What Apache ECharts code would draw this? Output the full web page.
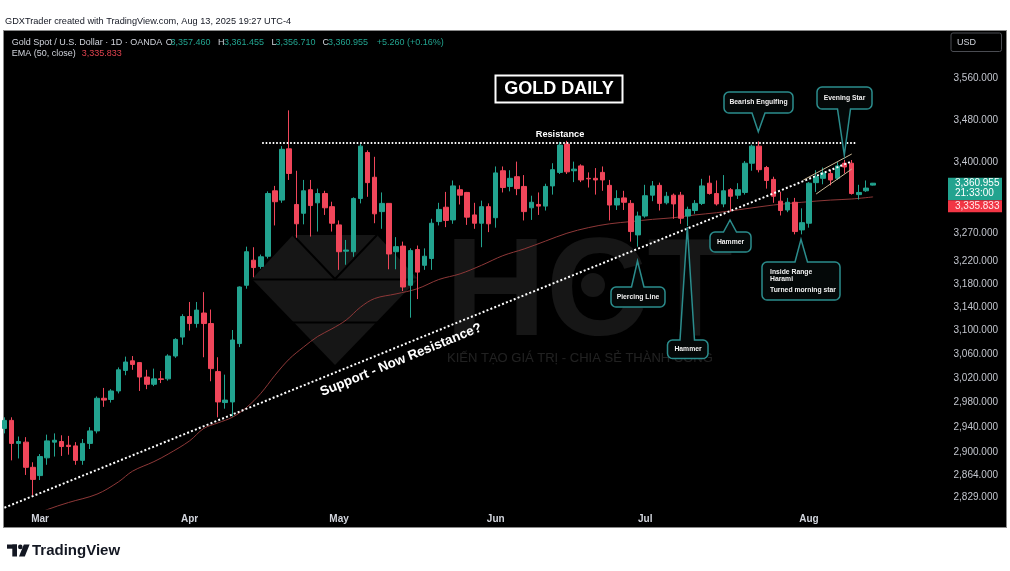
<!DOCTYPE html>
<html><head><meta charset="utf-8">
<script src="https://cdn.jsdelivr.net/npm/echarts@6/dist/echarts.min.js"></script>
<style>
html,body{margin:0;padding:0;background:#fff;width:1010px;height:571px;overflow:hidden}
#panel{position:absolute;left:3px;top:30px;width:1002px;height:496px;background:#000;border:1px solid #8a8a8a;}
#chart{position:absolute;left:0;top:0;width:1010px;height:571px}
</style></head><body>
<div id="panel"></div><div id="chart"></div>
<script>
// ---------- data ----------
const dates = [
 '2025-02-24','2025-02-25','2025-02-26','2025-02-27','2025-02-28',
 '2025-03-03','2025-03-04','2025-03-05','2025-03-06','2025-03-07','2025-03-10','2025-03-11','2025-03-12','2025-03-13','2025-03-14',
 '2025-03-17','2025-03-18','2025-03-19','2025-03-20','2025-03-21','2025-03-24','2025-03-25','2025-03-26','2025-03-27','2025-03-28','2025-03-31',
 '2025-04-01','2025-04-02','2025-04-03','2025-04-04','2025-04-07','2025-04-08','2025-04-09','2025-04-10','2025-04-11','2025-04-14',
 '2025-04-15','2025-04-16','2025-04-17','2025-04-21','2025-04-22','2025-04-23','2025-04-24','2025-04-25','2025-04-28','2025-04-29','2025-04-30',
 '2025-05-01','2025-05-02','2025-05-05','2025-05-06','2025-05-07','2025-05-08','2025-05-09','2025-05-12','2025-05-13','2025-05-14',
 '2025-05-15','2025-05-16','2025-05-19','2025-05-20','2025-05-21','2025-05-22','2025-05-23','2025-05-26','2025-05-27','2025-05-28','2025-05-29','2025-05-30',
 '2025-06-02','2025-06-03','2025-06-04','2025-06-05','2025-06-06','2025-06-09','2025-06-10','2025-06-11','2025-06-12','2025-06-13',
 '2025-06-16','2025-06-17','2025-06-18','2025-06-19','2025-06-20','2025-06-23','2025-06-24','2025-06-25','2025-06-26','2025-06-27','2025-06-30',
 '2025-07-01','2025-07-02','2025-07-03','2025-07-04','2025-07-07','2025-07-08','2025-07-09','2025-07-10','2025-07-11','2025-07-14',
 '2025-07-15','2025-07-16','2025-07-17','2025-07-18','2025-07-21','2025-07-22','2025-07-23','2025-07-24','2025-07-25','2025-07-28','2025-07-29','2025-07-30','2025-07-31',
 '2025-08-01','2025-08-04','2025-08-05','2025-08-06','2025-08-07','2025-08-08','2025-08-11','2025-08-12','2025-08-13','2025-08-14'
];
const openV = [2938,2951,2914,2916,2876,2863,2891,2916,2917,2911,
 2910,2887,2914,2934,2987,2985,2999,3033,3049,3046,
 3022,3010,3019,3019,3057,3089,3124,3112,3130,3112,
 3031,2980,2981,3078,3178,3222,3211,3229,3347,3330,
 3425,3322,3306,3349,3325,3342,3318,3285,3238,3237,
 3333,3418,3372,3309,3324,3237,3247,3178,3241,3213,
 3225,3291,3317,3294,3349,3344,3303,3288,3318,3298,
 3384,3355,3373,3355,3316,3322,3319,3356,3381,3434,
 3384,3393,3370,3370,3381,3357,3321,3334,3324,3267,
 3301,3339,3357,3325,3339,3339,3301,3311,3324,3361,
 3342,3323,3349,3339,3344,3398,3430,3390,3368,3328,
 3312,3326,3276,3288,3362,3370,3379,3370,3398,3398,
 3340,3347,3357.46];
const highV = [2956,2956,2925,2924,2884,2897,2928,2930,2927,2926,
 2916,2921,2940,2990,3004,3002,3038,3056,3057,3047,
 3034,3036,3032,3060,3087,3128,3149,3149,3166,3136,
 3055,3026,3101,3176,3246,3245,3232,3346,3356,3430,
 3498,3384,3367,3367,3351,3347,3327,3293,3258,3335,
 3434,3422,3410,3344,3324,3263,3255,3243,3248,3243,
 3296,3325,3345,3366,3357,3345,3325,3329,3324,3392,
 3392,3385,3401,3376,3338,3344,3360,3398,3438,3440,
 3401,3396,3381,3389,3392,3367,3348,3347,3330,3309,
 3358,3365,3362,3345,3342,3345,3318,3330,3369,3375,
 3366,3376,3352,3361,3402,3433,3439,3393,3373,3345,
 3334,3334,3315,3363,3385,3390,3386,3400,3404,3404,
 3358,3366,3361.455];
const lowV = [2930,2887,2890,2864,2832,2856,2880,2893,2894,2896,
 2880,2880,2905,2930,2973,2980,2995,3025,3034,2999,
 3002,3007,3012,3016,3054,3076,3100,3105,3055,3015,
 2956,2970,2957,3072,3172,3192,3207,3225,3284,3325,
 3367,3262,3286,3264,3273,3303,3273,3205,3214,3228,
 3324,3336,3288,3278,3206,3206,3168,3122,3154,3205,
 3205,3284,3281,3287,3322,3285,3278,3245,3272,3280,
 3344,3346,3339,3293,3294,3303,3311,3340,3378,3378,
 3363,3363,3353,3340,3347,3293,3312,3312,3255,3246,
 3298,3328,3311,3322,3296,3287,3283,3305,3321,3340,
 3320,3317,3309,3332,3340,3384,3381,3351,3325,3302,
 3308,3268,3268,3280,3345,3359,3357,3367,3379,3340,
 3331,3345,3356.71];
const closeV = [2951,2914,2917,2876,2857,2893,2918,2919,2909,2909,
 2887,2914,2934,2987,2984,2999,3034,3047,3043,3022,
 3010,3019,3018,3057,3085,3124,3112,3135,3112,3036,
 2981,2984,3084,3175,3237,3209,3228,3342,3327,3424,
 3379,3287,3347,3320,3342,3316,3288,3237,3240,3333,
 3430,3362,3305,3324,3233,3246,3175,3239,3201,3229,
 3288,3313,3293,3356,3339,3299,3288,3318,3287,3380,
 3353,3370,3351,3309,3326,3319,3355,3386,3432,3382,
 3387,3367,3369,3367,3367,3321,3333,3326,3273,3301,
 3338,3356,3324,3337,3323,3297,3313,3324,3356,3342,
 3323,3347,3337,3349,3398,3430,3386,3366,3337,3311,
 3326,3273,3289,3361,3373,3380,3367,3393,3391,3342,
 3344,3352,3360.955];
// EMA(50) line: bar index -> value
const emaIdx = [4,6,9,13,16,18,21,23,26,28,30,32,34,36,38,40,42,44,46,48,50,52,55,58,61,64,67,70,73,76,79,82,85,88,91,94,97,100,104,108,112,116,119,122];
const emaVal = [2800,2810,2821,2834,2853,2870,2885,2897,2918,2938,2947,2956,2972,2995,3025,3052,3072,3090,3103,3118,3140,3155,3163,3172,3188,3198,3213,3230,3242,3256,3270,3280,3287,3291,3295,3298,3303,3307,3314,3321,3326,3330,3332,3335.833];
const monthLabels = ['Mar','Apr','May','Jun','Jul','Aug'];
const monthCodes  = ['03','04','05','06','07','08'];
const priceTicks = [3560,3480,3400,3270,3220,3180,3140,3100,3060,3020,2980,2940,2900,2864,2829];
// drawn trend lines: [barIndex, price]
const supportLine    = [[0, 2813], [119, 3401.5]];
const resistanceLine = [[36.2, 3436.4], [119.75, 3436.4]];
const wedgeUpper     = [[112.2, 3366.8], [119, 3415.2]];
const wedgeLower     = [[114, 3341.1], [119, 3387.2]];
const changeText = '+5.260 (+0.16%)';
const countdown = '21:33:00';

// ---------- build ----------
const UP = '#22a38f', DOWN = '#f0465a';
const FONT = '"Liberation Sans", Arial, sans-serif';
const fmt = v => Number(v).toLocaleString('en-US', {minimumFractionDigits: 3, maximumFractionDigits: 3});
const monthIdx = monthCodes.map(m => dates.findIndex(d => d.slice(5, 7) === m));
const labelAt = {};
monthIdx.forEach((ix, k) => labelAt[ix] = monthLabels[k]);
const candleData = dates.map((d, i) => [i, openV[i], closeV[i], lowV[i], highV[i]]);
const emaData = emaIdx.map((x, i) => [x, emaVal[i]]);
const last = dates.length - 1;

const chart = echarts.init(document.getElementById('chart'), null, {renderer: 'canvas'});
const dotW = {color: '#ffffff', width: 1.8, type: [1.6, 1.9], cap: 'butt'};
chart.setOption({
  backgroundColor: 'transparent',
  animation: false,
  grid: {left: 4, right: 65, top: 31, bottom: 62},
  xAxis: {
    type: 'value', min: -0.06, max: 132.1,
    axisLine: {show: false}, axisTick: {show: false}, splitLine: {show: false},
    axisLabel: {customValues: monthIdx, formatter: v => labelAt[Math.round(v)] || '',
      color: '#d1d4dc', fontSize: 10, fontWeight: 'bold', fontFamily: FONT, margin: 5}
  },
  yAxis: {
    type: 'log', logBase: 10, min: 2811, max: 3653.6, position: 'right',
    axisLine: {show: false}, axisTick: {show: false}, splitLine: {show: false},
    axisLabel: {customValues: priceTicks, formatter: v => fmt(v), color: '#c3c6ce',
      fontSize: 10, fontFamily: FONT, align: 'right', margin: 53}
  },
  series: [
    {type: 'candlestick', name: 'XAUUSD', data: candleData,
     dimensions: ['idx', 'open', 'close', 'lowest', 'highest'],
     encode: {x: 0, y: [1, 2, 3, 4]}, barWidth: 5, z: 3,
     itemStyle: {color: UP, color0: DOWN, borderColor: UP, borderColor0: DOWN, borderWidth: 1}},
    {type: 'line', name: 'EMA 50', data: emaData, smooth: 0.35, symbol: 'none', z: 2,
     lineStyle: {color: '#8e3838', width: 1},
     markLine: {silent: true, symbol: ['none', 'none'], label: {show: false}, animation: false,
       data: [
         [{coord: supportLine[0], lineStyle: {color: '#fff', width: 2, type: [2, 2.2], cap: 'butt'}}, {coord: supportLine[1]}],
         [{coord: resistanceLine[0], lineStyle: dotW}, {coord: resistanceLine[1]}],
         [{coord: wedgeUpper[0], lineStyle: {color: '#cdbb98', width: 1, type: 'solid'}}, {coord: wedgeUpper[1]}],
         [{coord: wedgeLower[0], lineStyle: {color: '#cdbb98', width: 1, type: 'solid'}}, {coord: wedgeLower[1]}]
       ]}}
  ]
});

// ---------- overlays ----------
const WM = 'rgba(255,255,255,0.085)';
const teal = '#2b8d8d';
function callout(b, side, bx1, bx2, tx, ty) {
  const r = 5, pts = [];
  const [x1, y1, x2, y2] = b;
  const arc = (cx, cy, a0, a1) => { for (let k = 0; k <= 4; k++) { const a = a0 + (a1 - a0) * k / 4; pts.push([cx + r * Math.cos(a), cy + r * Math.sin(a)]); } };
  arc(x1 + r, y1 + r, Math.PI, 1.5 * Math.PI);
  if (side === 'top') pts.push([bx1, y1], [tx, ty], [bx2, y1]);
  arc(x2 - r, y1 + r, 1.5 * Math.PI, 2 * Math.PI);
  arc(x2 - r, y2 - r, 0, 0.5 * Math.PI);
  if (side === 'bottom') pts.push([bx2, y2], [tx, ty], [bx1, y2]);
  arc(x1 + r, y2 - r, 0.5 * Math.PI, Math.PI);
  return {type: 'polygon', z: 20, shape: {points: pts}, style: {fill: '#040808', stroke: teal, lineWidth: 1.5}};
}
const ctext = (x, y, t, align) => ({type: 'text', z: 21, x, y,
  style: {text: t, fill: '#f0f0f0', font: 'bold 6.8px ' + FONT, align: align || 'center', verticalAlign: 'middle'}});
const txt = (x, y, t, fill, font, extra) => Object.assign({type: 'text', z: 30, x, y,
  style: {text: t, fill, font, align: 'left', verticalAlign: 'middle'}}, extra || {});

const yC = chart.convertToPixel({seriesIndex: 0}, [last, closeV[last]])[1];
const yE = chart.convertToPixel({seriesIndex: 1}, [emaIdx[emaIdx.length - 1], emaVal[emaVal.length - 1]])[1];
const gTop = yC - 5.5, gBot = gTop + 22.5;
const rTop = Math.max(gBot, yE - 6);

const g = [
  // header
  txt(5, 21, 'GDXTrader created with TradingView.com, Aug 13, 2025 19:27 UTC-4', '#131722', '9.2px ' + FONT),
  txt(11.7, 42.3, 'Gold Spot / U.S. Dollar · 1D · OANDA', '#d1d4dc', '9px ' + FONT),
  txt(165.7, 42.3, 'O', '#d1d4dc', '9px ' + FONT), txt(170.5, 42.3, fmt(openV[last]), UP, '9px ' + FONT),
  txt(218, 42.3, 'H', '#d1d4dc', '9px ' + FONT), txt(224, 42.3, fmt(highV[last]), UP, '9px ' + FONT),
  txt(271.5, 42.3, 'L', '#d1d4dc', '9px ' + FONT), txt(275.5, 42.3, fmt(lowV[last]), UP, '9px ' + FONT),
  txt(322.5, 42.3, 'C', '#d1d4dc', '9px ' + FONT), txt(328, 42.3, fmt(closeV[last]), UP, '9px ' + FONT),
  txt(376.7, 42.3, changeText, UP, '9px ' + FONT),
  txt(11.7, 53.5, 'EMA (50, close)', '#d1d4dc', '9px ' + FONT),
  txt(81.7, 53.5, fmt(emaVal[emaVal.length - 1]), '#e2434f', '9px ' + FONT),
  // USD box
  {type: 'rect', z: 30, shape: {x: 951, y: 33, width: 50.5, height: 18.5, r: 2}, style: {fill: 'transparent', stroke: '#4a4c52', lineWidth: 1}},
  txt(957, 42.3, 'USD', '#d1d4dc', '9px ' + FONT),
  // last price / EMA boxes
  {type: 'rect', z: 30, shape: {x: 948, y: gTop, width: 54, height: gBot - gTop}, style: {fill: UP}},
  txt(955, yC, fmt(closeV[last]), '#ffffff', '10px ' + FONT),
  txt(955, yC + 10.5, countdown, '#ffffff', '10px ' + FONT),
  {type: 'rect', z: 30, shape: {x: 948, y: rTop, width: 54, height: 12}, style: {fill: '#f23645'}},
  txt(955, rTop + 6, fmt(emaVal[emaVal.length - 1]), '#ffe8ea', '10px ' + FONT),
  // watermark
  {type: 'polygon', z: 1, shape: {points: [[293, 235], [377, 235], [418, 279], [335, 365], [252, 279]]}, style: {fill: WM}},
  {type: 'polyline', z: 1, shape: {points: [[293, 235], [335, 279], [377, 235]]}, style: {stroke: '#000', lineWidth: 2}},
  {type: 'line', z: 1, shape: {x1: 250, y1: 279.5, x2: 420, y2: 279.5}, style: {stroke: '#000', lineWidth: 2}},
  {type: 'line', z: 1, shape: {x1: 290, y1: 322.5, x2: 380, y2: 322.5}, style: {stroke: '#000', lineWidth: 2}},
  {type: 'text', z: 1, x: 445, y: 296, style: {text: 'HCT', fill: WM, font: 'bold 140px ' + FONT, align: 'left', verticalAlign: 'middle'}},
  {type: 'circle', z: 1, shape: {cx: 593, cy: 285, r: 12}, style: {fill: WM}},
  {type: 'text', z: 1, x: 447, y: 358, style: {text: 'KIẾN TẠO GIÁ TRỊ - CHIA SẺ THÀNH CÔNG', fill: 'rgba(255,255,255,0.13)', font: '13px ' + FONT, align: 'left', verticalAlign: 'middle'}},
  // titles
  {type: 'rect', z: 30, shape: {x: 495.5, y: 75.5, width: 127, height: 27}, style: {fill: 'transparent', stroke: '#ffffff', lineWidth: 2}},
  {type: 'text', z: 30, x: 559, y: 89.5, style: {text: 'GOLD DAILY', fill: '#ffffff', font: 'bold 18px ' + FONT, align: 'center', verticalAlign: 'middle'}},
  {type: 'text', z: 30, x: 560, y: 134.5, style: {text: 'Resistance', fill: '#ffffff', font: 'bold 9.2px ' + FONT, align: 'center', verticalAlign: 'middle'}},
  {type: 'text', z: 30, x: 401, y: 360, rotation: Math.atan(0.4088),
   style: {text: 'Support - Now Resistance?', fill: '#ffffff', font: 'bold 13.3px ' + FONT, align: 'center', verticalAlign: 'middle'}},
  // callouts
  callout([724, 92, 793, 113], 'bottom', 752, 765, 758.3, 131.7), ctext(758.5, 102.5, 'Bearish Engulfing'),
  callout([817, 87, 872, 109], 'bottom', 837.5, 850.5, 844.3, 155), ctext(844.5, 98, 'Evening Star'),
  callout([710, 232, 751, 252], 'top', 723.5, 736.5, 730, 220), ctext(730.5, 242, 'Hammer'),
  callout([762, 262, 840, 300], 'top', 795, 807.5, 801, 239.3),
  ctext(770, 272.3, 'Inside Range', 'left'), ctext(770, 279.3, 'Harami', 'left'), ctext(770, 290.3, 'Turned morning star', 'left'),
  callout([611, 287, 665, 307], 'top', 631.5, 644, 637.5, 261), ctext(638, 297, 'Piercing Line'),
  callout([667.5, 340, 708, 358.5], 'top', 680, 694.5, 687.3, 227), ctext(688, 349.5, 'Hammer'),
  // TradingView footer
  {type: 'rect', z: 30, shape: {x: 7, y: 544.5, width: 10, height: 4.2}, style: {fill: '#131722'}},
  {type: 'rect', z: 30, shape: {x: 12.3, y: 544.5, width: 4.7, height: 12}, style: {fill: '#131722'}},
  {type: 'circle', z: 30, shape: {cx: 20.3, cy: 546.9, r: 2.3}, style: {fill: '#131722'}},
  {type: 'polygon', z: 30, shape: {points: [[23.8, 544.5], [29.6, 544.5], [24.8, 556.5], [19, 556.5]]}, style: {fill: '#131722'}},
  txt(32, 550.5, 'TradingView', '#131722', 'bold 15px ' + FONT)
];
chart.setOption({graphic: g});
</script>
</body></html>
